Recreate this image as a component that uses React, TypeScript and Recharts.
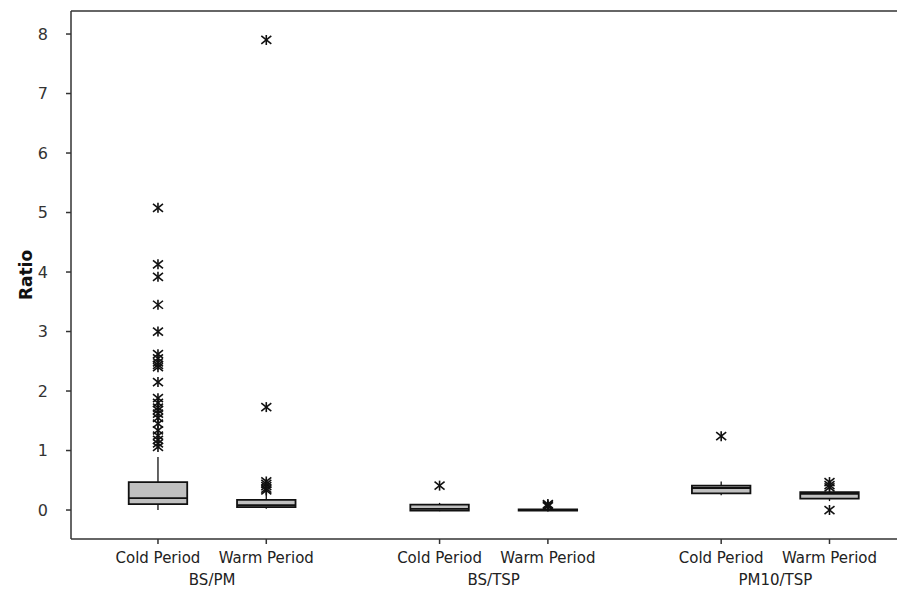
import React from "react";
import {
  ComposedChart,
  XAxis,
  YAxis,
  Scatter,
  ReferenceArea,
  ReferenceLine,
  Label,
} from "recharts";

// ---- data ----
const categories = ["Cold Period", "Warm Period", "Cold Period", "Warm Period", "Cold Period", "Warm Period"];
const groups = ["BS/PM", "BS/TSP", "PM10/TSP"];
const lowerWhisker = [0.0, 0.02, -0.02, -0.01, 0.25, 0.15];
const q1 = [0.1, 0.05, -0.01, -0.01, 0.28, 0.19];
const median = [0.2, 0.08, 0.02, 0.0, 0.37, 0.27];
const q3 = [0.47, 0.17, 0.09, 0.01, 0.41, 0.3];
const upperWhisker = [0.89, 0.28, 0.12, 0.03, 0.48, 0.35];
const outliersColdBSPM = [5.08, 4.13, 3.92, 3.45, 3.0, 2.62, 2.55, 2.48, 2.44, 2.4, 2.15, 1.88, 1.8, 1.72, 1.68, 1.62, 1.55, 1.45, 1.34, 1.25, 1.18, 1.12, 1.06];
const outliersWarmBSPM = [7.9, 1.73, 0.48, 0.44, 0.4, 0.36, 0.33];
const outliersColdBSTSP = [0.41];
const outliersWarmBSTSP = [0.06, 0.08, 0.1];
const outliersColdPM10 = [1.24];
const outliersWarmPM10 = [0.0, 0.38, 0.42, 0.47];
const outliers = [outliersColdBSPM, outliersWarmBSPM, outliersColdBSTSP, outliersWarmBSTSP, outliersColdPM10, outliersWarmPM10];
const yTicks = [0, 1, 2, 3, 4, 5, 6, 7, 8];

// ---- layout ----
const GROUP_STEP = 2.6;
const HALF_BOX = 0.27;
const X_DOMAIN: [number, number] = [-0.803, 6.971];
const Y_DOMAIN: [number, number] = [-0.487, 8.387];
const FONT = "'DejaVu Sans', sans-serif";

const pos = (i: number) => Math.floor(i / 2) * GROUP_STEP + (i % 2);
const periodTicks = categories.map((_, i) => pos(i));
const groupTicks = groups.map((_, g) => g * GROUP_STEP + 0.5);
const allTicks = [...periodTicks, ...groupTicks];

const points = outliers.flatMap((arr, i) => arr.map((v) => ({ x: pos(i), y: v })));

const Asterisk = (props: any) => {
  const { cx, cy } = props;
  if (cx == null || cy == null) return null;
  const r = 5;
  return (
    <g stroke="#111" strokeWidth={1.6}>
      <line x1={cx} y1={cy - r} x2={cx} y2={cy + r} />
      <line x1={cx - r} y1={cy - r + 1} x2={cx + r} y2={cy + r - 1} />
      <line x1={cx - r} y1={cy + r - 1} x2={cx + r} y2={cy - r + 1} />
    </g>
  );
};

const XTick = (props: any) => {
  const { x, y, payload } = props;
  const v = payload.value;
  const pi = periodTicks.findIndex((p) => Math.abs(p - v) < 1e-6);
  if (pi >= 0) {
    return (
      <g>
        <line x1={x} y1={y} x2={x} y2={y + 5} stroke="#333" strokeWidth={1.5} />
        <text x={x} y={y + 24} textAnchor="middle" fontFamily={FONT} fontSize={15} fill="#222">
          {categories[pi]}
        </text>
      </g>
    );
  }
  const gi = groupTicks.findIndex((p) => Math.abs(p - v) < 1e-6);
  return (
    <text x={x} y={y + 46} textAnchor="middle" fontFamily={FONT} fontSize={15} fill="#222">
      {gi >= 0 ? groups[gi] : ""}
    </text>
  );
};

export default function App() {
  return (
    <ComposedChart width={905} height={590} margin={{ top: 3, right: 0, bottom: 0, left: 0 }}>
      <XAxis
        type="number"
        dataKey="x"
        domain={X_DOMAIN}
        allowDataOverflow
        ticks={allTicks}
        interval={0}
        tickLine={false}
        tickSize={0}
        tickMargin={0}
        tick={<XTick />}
        height={59}
        stroke="#333"
        strokeWidth={1.5}
      />
      <YAxis
        type="number"
        dataKey="y"
        domain={Y_DOMAIN}
        allowDataOverflow
        ticks={yTicks}
        interval={0}
        width={63}
        tickSize={5}
        tickMargin={18}
        stroke="#333"
        strokeWidth={1.5}
        tick={{ fontFamily: FONT, fontSize: 16, fill: "#333" }}
      >
        <Label
          value="Ratio"
          angle={-90}
          position="insideLeft"
          offset={18}
          style={{ fontFamily: FONT, fontSize: 17, fontWeight: "bold", fill: "#111", textAnchor: "middle" }}
        />
      </YAxis>
      <ReferenceLine y={Y_DOMAIN[1]} stroke="#333" strokeWidth={1.5} ifOverflow="visible" />
      {categories.map((_, i) => (
        <ReferenceLine
          key={"uw" + i}
          segment={[{ x: pos(i), y: q3[i] }, { x: pos(i), y: upperWhisker[i] }]}
          stroke="#111"
          strokeWidth={1.3}
        />
      ))}
      {categories.map((_, i) => (
        <ReferenceLine
          key={"lw" + i}
          segment={[{ x: pos(i), y: lowerWhisker[i] }, { x: pos(i), y: q1[i] }]}
          stroke="#111"
          strokeWidth={1.3}
        />
      ))}
      {categories.map((_, i) => (
        <ReferenceArea
          key={"box" + i}
          x1={pos(i) - HALF_BOX}
          x2={pos(i) + HALF_BOX}
          y1={q1[i]}
          y2={q3[i]}
          fill="#c0c0c0"
          fillOpacity={1}
          stroke="#111"
          strokeWidth={1.8}
        />
      ))}
      {categories.map((_, i) => (
        <ReferenceLine
          key={"med" + i}
          segment={[{ x: pos(i) - HALF_BOX, y: median[i] }, { x: pos(i) + HALF_BOX, y: median[i] }]}
          stroke="#111"
          strokeWidth={1.8}
        />
      ))}
      <Scatter data={points} shape={<Asterisk />} isAnimationActive={false} />
    </ComposedChart>
  );
}
